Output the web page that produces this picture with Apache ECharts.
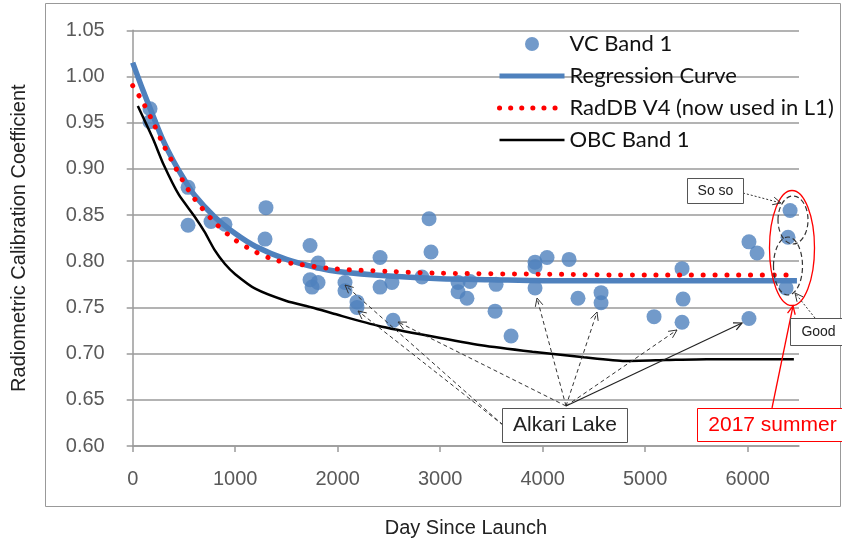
<!DOCTYPE html>
<html>
<head>
<meta charset="utf-8">
<script src="https://cdn.jsdelivr.net/npm/echarts@6/dist/echarts.min.js"></script>
<style>html,body{margin:0;padding:0;background:#fff}#c{width:842px;height:543px}</style>
</head>
<body>
<div id="c"></div>
<script>
// ---- data ----
const xTickLabels = [0, 1000, 2000, 3000, 4000, 5000, 6000];
const yTickLabels = ['0.60','0.65','0.70','0.75','0.80','0.85','0.90','0.95','1.00','1.05'];

const vcDay  = [169,169,540,540,764,900,1300,1291,1730,1808,1730,1750,1808,2071,2071,2188,2188,2540,2413,2413,2529,2891,2910,2822,3174,3174,3261,3291,3545,3535,3691,3925,3925,4042,3925,4257,4344,4569,4569,5086,5359,5369,5359,6012,6091,6012,6413,6393,6374];
const vcCoef = [0.965,0.951,0.880,0.839,0.843,0.840,0.858,0.824,0.817,0.798,0.780,0.772,0.777,0.777,0.768,0.756,0.750,0.736,0.804,0.772,0.777,0.846,0.810,0.783,0.777,0.767,0.760,0.778,0.775,0.746,0.719,0.799,0.794,0.804,0.771,0.802,0.760,0.766,0.755,0.740,0.792,0.759,0.734,0.821,0.809,0.738,0.855,0.826,0.771];

const regDay  = [0,100,200,300,400,500,600,800,1000,1200,1500,1800,2000,2500,3000,3500,4000,5000,6000,6480];
const regCoef = [1.015,0.985,0.957,0.930,0.908,0.889,0.872,0.848,0.830,0.816,0.802,0.793,0.789,0.784,0.781,0.780,0.779,0.779,0.779,0.779];

const radDay  = [0,100,200,300,400,500,600,800,1000,1200,1400,1600,1950,2500,3000,4000,5000,6450];
const radCoef = [0.990,0.972,0.950,0.926,0.905,0.885,0.868,0.842,0.823,0.810,0.801,0.797,0.792,0.789,0.787,0.786,0.785,0.785];

const obcDay  = [50,200,300,450,600,700,800,900,1000,1200,1500,1750,2000,2400,2900,3400,3900,4400,4800,5200,5600,6450];
const obcCoef = [0.968,0.932,0.905,0.872,0.849,0.832,0.812,0.797,0.786,0.770,0.757,0.750,0.742,0.730,0.719,0.709,0.702,0.696,0.692,0.693,0.694,0.694];

const seriesNames = ['VC Band 1','Regression Curve','RadDB V4 (now used in L1)','OBC Band 1'];
const xTitle = 'Day Since Launch';
const yTitle = 'Radiometric Calibration Coefficient';

// ---- build ----
const zip = (a, b) => a.map((v, i) => [v, b[i]]);
const BLUE = '#4f81bd';
const GRAY = '#595959';
const FONT = '"Liberation Sans", Arial, sans-serif';

function arrow(x1, y1, x2, y2, color, dash, width) {
  const ang = Math.atan2(y2 - y1, x2 - x1);
  const L = 9, A = Math.PI / 7;
  const p1 = [x2 - L * Math.cos(ang - A), y2 - L * Math.sin(ang - A)];
  const p2 = [x2 - L * Math.cos(ang + A), y2 - L * Math.sin(ang + A)];
  return [
    {type: 'line', shape: {x1, y1, x2, y2}, style: {stroke: color, lineWidth: width || 1, lineDash: dash || null}, z: 100},
    {type: 'polyline', shape: {points: [p1, [x2, y2], p2]}, style: {stroke: color, lineWidth: width || 1, fill: null}, z: 100}
  ];
}
function box(x, y, w, h, text, color, fontSize) {
  return [
    {type: 'rect', shape: {x, y, width: w, height: h}, style: {fill: '#fff', stroke: color === 'red' ? '#ff0000' : '#555', lineWidth: 1}, z: 101},
    {type: 'text', x: x + w / 2, y: y + h / 2, style: {text, fill: color === 'red' ? '#ff0000' : '#222', font: fontSize + 'px ' + FONT, align: 'center', verticalAlign: 'middle'}, z: 102}
  ];
}

const graphics = [].concat(
  [{type: 'rect', shape: {x: 45.5, y: 3.5, width: 795, height: 503}, style: {fill: null, stroke: '#999', lineWidth: 1}, z: 0, silent: true}],
  // Alkari Lake arrows
  arrow(503, 425, 345, 285, '#333', [4, 3]),
  arrow(503, 425, 358, 311, '#333', [4, 3]),
  arrow(566, 406, 398, 322, '#333', [4, 3]),
  arrow(566, 406, 537, 298, '#333', [4, 3]),
  arrow(566, 406, 597, 312, '#333', [4, 3]),
  arrow(566, 406, 677, 330, '#333', [4, 3]),
  arrow(566, 406, 742, 323, '#222', null, 1.2),
  box(502.5, 408.5, 125, 34, 'Alkari Lake', 'k', 21),
  // 2017 summer
  [{type: 'ellipse', shape: {cx: 792, cy: 248, rx: 22.5, ry: 57.5}, style: {fill: null, stroke: '#ff0000', lineWidth: 1.3}, z: 100},
   {type: 'ellipse', shape: {cx: 793, cy: 220, rx: 15, ry: 24}, style: {fill: null, stroke: '#333', lineWidth: 1.2, lineDash: [5, 3]}, z: 100},
   {type: 'ellipse', shape: {cx: 788, cy: 266, rx: 14.5, ry: 29}, style: {fill: null, stroke: '#333', lineWidth: 1.2, lineDash: [5, 3]}, z: 100}],
  arrow(772, 408, 793, 306, '#ff0000', null, 1.3),
  box(697.5, 408.5, 150, 33, '2017 summer', 'red', 21),
  arrow(743, 193, 781, 203, '#333', [2, 2]),
  box(687.5, 178.5, 56, 25, 'So so', 'k', 14),
  arrow(815, 318, 795, 293, '#333', [2, 2]),
  box(790.5, 318.5, 56, 27, 'Good', 'k', 14)
);

const hideSym = {color: 'rgba(0,0,0,0)', opacity: 0, borderWidth: 0};
const chart = echarts.init(document.getElementById('c'), null, {renderer: 'canvas'});
chart.setOption({
  backgroundColor: '#fff',
  animation: false,
  grid: {left: 132.7, right: 43, top: 30.3, bottom: 97},
  legend: {
    orient: 'vertical', left: 492, top: 28,
    itemWidth: 65, itemHeight: 14, itemGap: 10,
    data: [
      {name: seriesNames[0]},
      {name: seriesNames[1], itemStyle: hideSym, lineStyle: {color: BLUE, width: 5}},
      {name: seriesNames[2], itemStyle: hideSym, lineStyle: {color: '#ff0000', width: 5, type: [0.1, 11], cap: 'round'}},
      {name: seriesNames[3], itemStyle: hideSym, lineStyle: {color: '#000', width: 2.5}}
    ],
    textStyle: {fontFamily: 'Lato, "Open Sans", sans-serif', fontSize: 22, color: '#111'}
  },
  xAxis: {
    type: 'value', min: 0, max: 6500, interval: 1000,
    name: xTitle, nameLocation: 'middle', nameGap: 72,
    nameTextStyle: {fontFamily: FONT, fontSize: 20, color: '#222'},
    axisLine: {show: true, lineStyle: {color: '#9a9a9a', width: 1.5}},
    axisTick: {show: true, length: 6, lineStyle: {color: '#9a9a9a', width: 1.5}, customValues: xTickLabels},
    axisLabel: {margin: 23, fontFamily: FONT, fontSize: 20, color: GRAY, customValues: xTickLabels,
      formatter: v => String(Math.round(v))},
    splitLine: {show: false}
  },
  yAxis: {
    type: 'value', min: 0.60, max: 1.05, interval: 0.05,
    name: yTitle, nameLocation: 'middle', nameGap: 103, nameRotate: 90,
    nameTextStyle: {fontFamily: FONT, fontSize: 20, color: '#222'},
    axisLine: {show: true, lineStyle: {color: '#9a9a9a', width: 1.5}},
    axisTick: {show: true, length: 6, lineStyle: {color: '#9a9a9a', width: 1.5}},
    axisLabel: {margin: 28, fontFamily: FONT, fontSize: 20, color: GRAY,
      formatter: v => yTickLabels.find(t => Math.abs(parseFloat(t) - v) < 1e-6) || ''},
    splitLine: {show: true, lineStyle: {color: '#9a9a9a', width: 1.5}}
  },
  series: [
    {name: seriesNames[0], type: 'scatter', data: zip(vcDay, vcCoef), symbol: 'circle', symbolSize: 15,
     itemStyle: {color: BLUE}},
    {name: seriesNames[1], type: 'line', data: zip(regDay, regCoef), smooth: 0.3, symbol: 'none',
     lineStyle: {color: BLUE, width: 5.5}, itemStyle: {color: BLUE}},
    {name: seriesNames[2], type: 'line', data: zip(radDay, radCoef), smooth: 0.3, symbol: 'none',
     lineStyle: {color: '#ff0000', width: 5, type: [0.1, 11.7], cap: 'round'}, itemStyle: {color: '#ff0000'}},
    {name: seriesNames[3], type: 'line', data: zip(obcDay, obcCoef), smooth: 0.2, symbol: 'none',
     lineStyle: {color: '#000', width: 2.5}, itemStyle: {color: '#000'}}
  ],
  graphic: graphics
});
</script>
</body>
</html>
